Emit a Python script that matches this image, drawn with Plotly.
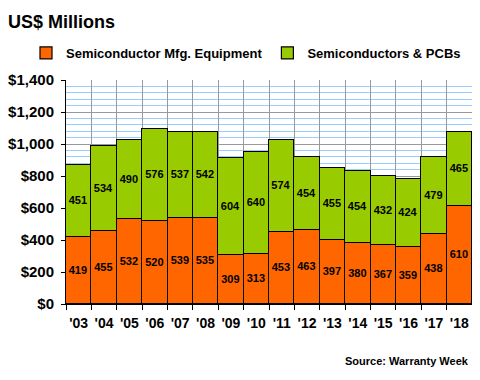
import plotly.graph_objects as go

years = ["'03", "'04", "'05", "'06", "'07", "'08", "'09", "'10",
         "'11", "'12", "'13", "'14", "'15", "'16", "'17", "'18"]
mfg_equipment = [419, 455, 532, 520, 539, 535, 309, 313, 453, 463, 397, 380, 367, 359, 438, 610]
semis_pcbs = [451, 534, 490, 576, 537, 542, 604, 640, 574, 454, 455, 454, 432, 424, 479, 465]
y_ticks = [0, 200, 400, 600, 800, 1000, 1200, 1400]
y_tick_labels = ["$0", "$200", "$400", "$600", "$800", "$1,000", "$1,200", "$1,400"]

FONT = "Arial, Liberation Sans, sans-serif"
OFF = 8  # page body margin
W, H = 480 - OFF, 380 - OFF
ML, MR, MT, MB = 58, 8, 72, 76
PW, PH = W - ML - MR, H - MT - MB


def px_x(x):
    return (x - OFF - ML) / PW


def px_y(y):
    return (H - MB - (y - OFF)) / PH


fig = go.Figure()
fig.add_trace(go.Bar(
    x=years, y=mfg_equipment, name="Semiconductor Mfg. Equipment",
    marker=dict(color="#FF6600", line=dict(color="black", width=1.2)),
    text=mfg_equipment, textposition="inside", insidetextanchor="middle",
    textangle=0, constraintext="none",
    textfont=dict(family=FONT, size=11, color="black", weight="bold"),
))
fig.add_trace(go.Bar(
    x=years, y=semis_pcbs, name="Semiconductors & PCBs",
    marker=dict(color="#99CC00", line=dict(color="black", width=1.2)),
    text=semis_pcbs, textposition="inside", insidetextanchor="middle",
    textangle=0, constraintext="none",
    textfont=dict(family=FONT, size=11, color="black", weight="bold"),
))

fig.update_layout(
    barmode="stack", bargap=0,
    width=W, height=H,
    margin=dict(l=ML, r=MR, t=MT, b=MB, autoexpand=False),
    paper_bgcolor="white", plot_bgcolor="white",
    font=dict(family=FONT, color="black"),
    showlegend=True,
    legend=dict(orientation="h", x=px_x(26), xanchor="left",
                y=px_y(53), yanchor="middle",
                xref="paper", yref="paper",
                font=dict(family=FONT, size=13, color="black", weight="bold"),
                itemwidth=30,
                traceorder="normal", bgcolor="rgba(0,0,0,0)"),
    xaxis=dict(
        type="category", tickson="boundaries", tickangle=0,
        showgrid=True, gridcolor="#999999", gridwidth=1,
        ticks="outside", ticklen=5, tickcolor="black",
        showline=True, linecolor="black", linewidth=1,
        ticklabelstandoff=6,
        tickfont=dict(family=FONT, size=14, color="black", weight="bold"),
    ),
    yaxis=dict(
        range=[0, 1400],
        tickmode="array", tickvals=y_ticks, ticktext=y_tick_labels,
        showgrid=True, gridcolor="#999999", gridwidth=1,
        ticks="outside", ticklen=4, tickcolor="black",
        showline=True, linecolor="black", linewidth=1,
        zeroline=False, ticklabelstandoff=4,
        tickfont=dict(family=FONT, size=15, color="black", weight="bold"),
        minor=dict(dtick=40, tick0=0, showgrid=True, gridcolor="#99CCFF",
                   gridwidth=1, ticks=""),
    ),
    yaxis2=dict(
        overlaying="y", side="left", range=[0, 1400],
        tickmode="linear", tick0=0, dtick=40,
        ticks="inside", ticklen=5, tickcolor="black",
        showticklabels=False, showgrid=False, zeroline=False, showline=False,
    ),
    annotations=[
        dict(text="US$ Millions", x=px_x(6), y=px_y(22), xref="paper", yref="paper",
             showarrow=False, xanchor="left", yanchor="middle",
             font=dict(family=FONT, size=18, color="black", weight="bold")),
        dict(text="Source: Warranty Week", x=px_x(471), y=px_y(361), xref="paper", yref="paper",
             showarrow=False, xanchor="right", yanchor="middle",
             font=dict(family=FONT, size=11, color="black", weight="bold")),
    ],
)

fig.write_html("out.html")
